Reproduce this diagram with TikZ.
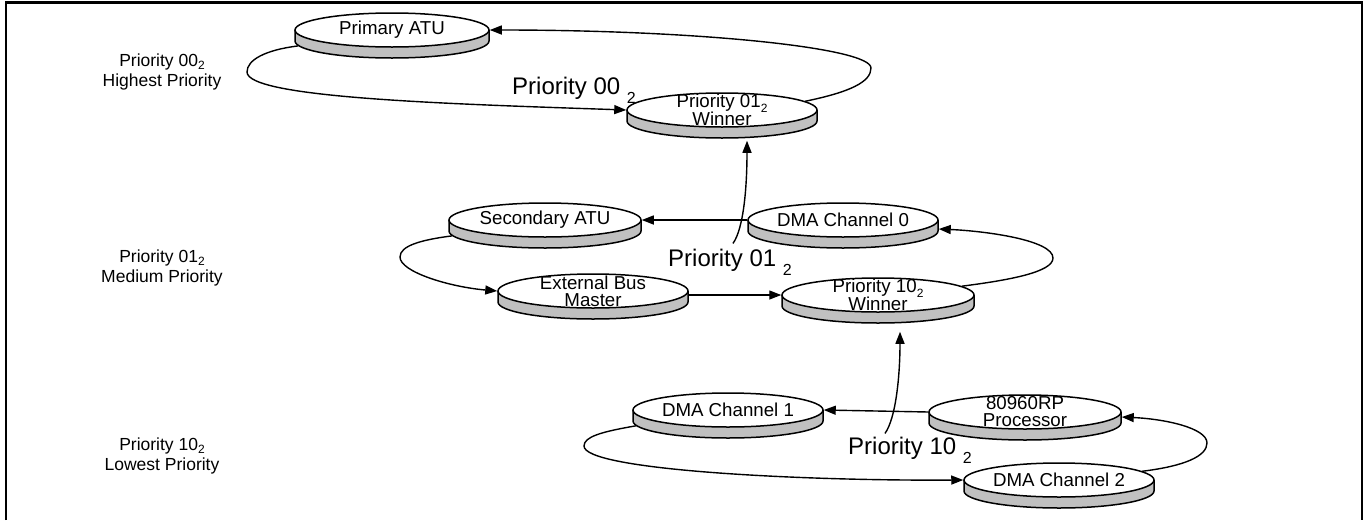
\documentclass[tikz,border=0pt]{standalone}
\usepackage{fontspec}
\setmainfont{Liberation Sans}
\usetikzlibrary{arrows.meta,shapes.geometric}
\definecolor{bandgray}{RGB}{192,192,192}

% lowered small "2" of the binary priority codes
\newcommand{\lowtwo}[2]{\smash{\raisebox{-#2pt}{\fontsize{#1}{#1}\selectfont 2}}}

% disk: name, x, y, half width, text
\newcommand{\disk}[5]{%
  \fill[bandgray] (#2-#4,#3) -- ++(0,11) arc[start angle=180,end angle=0,x radius=#4,y radius=17] -- ++(0,-11) -- cycle;
  \draw[rim] (#2-#4,#3) -- ++(0,11) arc[start angle=180,end angle=0,x radius=#4,y radius=17] -- ++(0,-11);
  \node[disk, minimum width={2*#4pt}] (#1) at (#2,#3) {};
  \node[disktext] (#1t) at (#1) {#5};
}

\tikzset{
  rim/.style={line width=1.5pt},
  disk/.style={ellipse, draw, fill=white, line width=1.5pt, inner sep=0pt, minimum height=34pt},
  disktext/.style={align=center, inner sep=0pt, font=\fontsize{18.7}{17}\selectfont},
  sidelabel/.style={align=center, inner sep=0pt, font=\fontsize{17.5}{19.5}\selectfont},
  biglabel/.style={anchor=base west, inner sep=0pt, font=\fontsize{24}{24}\selectfont},
  link/.style={line width=1.4pt, -{Triangle[length=12pt,width=9pt]}},
}

\begin{document}
\begin{tikzpicture}[x=1pt,y=-1pt]
\useasboundingbox (0,0) rectangle (1366,520);
\draw[line width=2.5pt] (6,520) -- (6,2.5) -- (1362,2.5) -- (1362,520);

% priority levels
\node[sidelabel] (lab00) at (162,72) {Priority 00\lowtwo{12}{3}\\Highest Priority};
\node[sidelabel] (lab01) at (162,268) {Priority 01\lowtwo{12}{3}\\Medium Priority};
\node[sidelabel] (lab10) at (162,456) {Priority 10\lowtwo{12}{3}\\Lowest Priority};

% bus masters
\disk{patu}{392}{30}{97}{Primary ATU}
\disk{win01}{722}{110}{95}{Priority 01\lowtwo{12}{5}\\Winner}
\disk{satu}{545}{220}{96}{Secondary ATU}
\disk{dma0}{843}{220}{95}{DMA Channel 0}
\disk{ebm}{593}{291}{95}{External Bus\\Master}
\disk{win10}{878}{295}{96}{Priority 10\lowtwo{12}{5}\\Winner}
\disk{dma1}{728}{410}{95}{DMA Channel 1}
\disk{proc}{1025}{412}{96}{80960RP\\Processor}
\disk{dma2}{1059}{480}{95}{DMA Channel 2}

\node[biglabel] (prio00) at (512,94) {Priority 00 \lowtwo{16}{9}};
\node[biglabel] (prio01) at (668,266) {Priority 01 \lowtwo{16}{9}};
\node[biglabel] (prio10) at (848,454) {Priority 10 \lowtwo{16}{9}};

% round robin, level 00
\draw[link] (win01.6) .. controls (850,92) and (871,82) .. (871,68) .. controls (871,48) and (700,30) .. (patu.east);
\draw[link] ([yshift=-11pt]patu.183) .. controls (265,50) and (247,60) .. (247,72) .. controls (247,98) and (450,104) .. (win01.west);
\draw[link] ([shift={(3pt,5pt)}]prio01.north) .. controls (744,228) and (747,185) .. ([shift={(25pt,-13pt)}]win01.south);

% round robin, level 01
\draw[link] (dma0.west) -- (satu.east);
\draw[link] ([yshift=-11pt]satu.183) .. controls (420,240) and (400,246) .. (400,257) .. controls (400,272) and (450,287) .. (ebm.west);
\draw[link] (ebm.east |- win10.west) -- (win10.west);
\draw[link] (win10.6) .. controls (1010,280) and (1053,272) .. (1053,258) .. controls (1053,240) and (985,231) .. ([yshift=-9pt]dma0.east);
\draw[link] ([shift={(-25pt,3pt)}]prio10.north) .. controls (896,418) and (900,375) .. ([shift={(22pt,-19pt)}]win10.south);

% round robin, level 10
\draw[link] (proc.west) -- (dma1.east);
\draw[link] ([yshift=-11pt]dma1.183) .. controls (600,432) and (584,437) .. (584,446) .. controls (584,470) and (800,481) .. (dma2.west);
\draw[link] (dma2.6) .. controls (1185,466) and (1207,456) .. (1207,443) .. controls (1207,428) and (1165,419) .. ([yshift=-5pt]proc.east);
\end{tikzpicture}
\end{document}
